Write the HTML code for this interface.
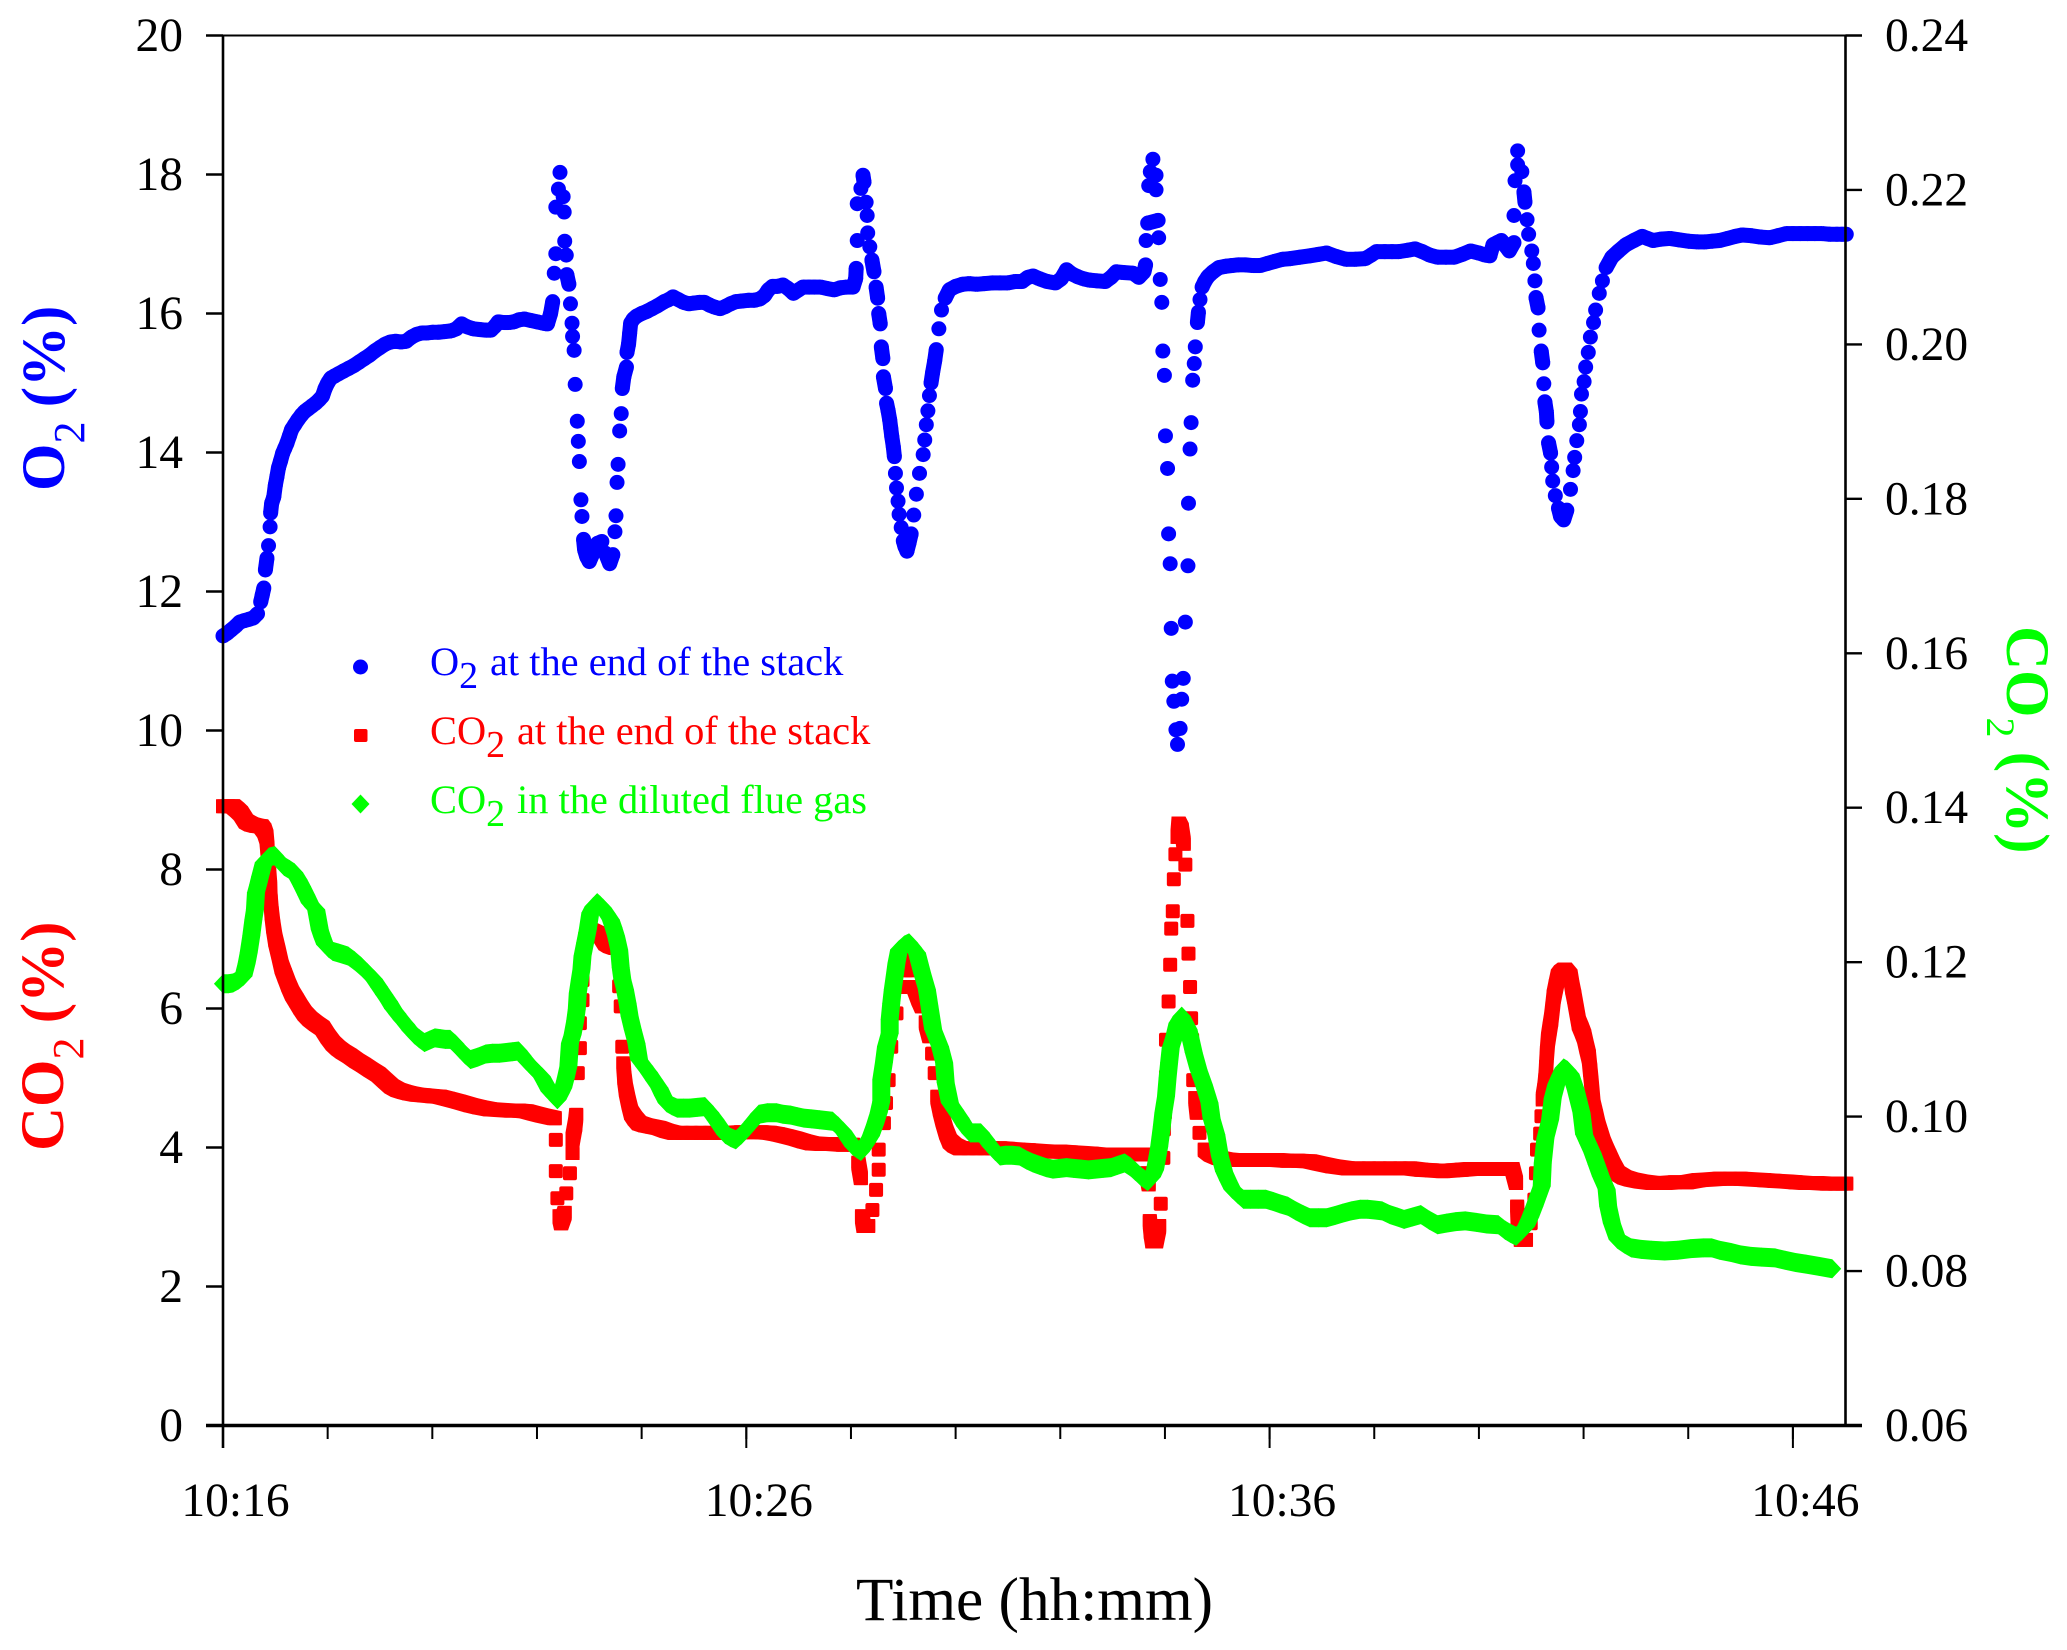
<!DOCTYPE html>
<html>
<head>
<meta charset="utf-8">
<title>O2 and CO2 concentration over time</title>
<style>
html,body{margin:0;padding:0;background:#fff;}
svg{display:block;font-family:"Liberation Serif",serif;}
</style>
</head>
<body>
<svg id="chart" xmlns="http://www.w3.org/2000/svg" width="2067" height="1650" viewBox="0 0 2067 1650">
<g id="marks-o2"></g>
<g id="marks-co2-stack"></g>
<g id="marks-co2-flue"></g>
<g id="axes"></g>
<text x="856" y="1620" font-size="61.3" fill="#000">Time (hh:mm)</text>
<text transform="translate(64,491) rotate(-90)" font-size="61" font-weight="bold" fill="#0000ff">O<tspan font-size="44" font-weight="normal" dy="20">2</tspan><tspan dy="-20" dx="-1"> (%)</tspan></text>
<text transform="translate(63,1151) rotate(-90)" font-size="61" font-weight="bold" fill="#ff0000">CO<tspan font-size="44" font-weight="normal" dy="20">2</tspan><tspan dy="-20" dx="-1"> (%)</tspan></text>
<text transform="translate(2007,626) rotate(90)" font-size="61" font-weight="bold" fill="#00ff00">CO<tspan font-size="40" font-weight="normal" dy="20">2</tspan><tspan dy="-20" dx="-1"> (%)</tspan></text>
<g>
<circle cx="360.5" cy="667" r="7.5" fill="#0000ff"/>
<text x="430" y="675" font-size="40.4" fill="#0000ff">O<tspan font-size="38" dy="13">2</tspan><tspan dy="-13" x="490">at the end of the stack</tspan></text>
<rect x="354" y="729" width="13.5" height="13" rx="2" fill="#ff0000"/>
<text x="430" y="744" font-size="40.4" fill="#ff0000">CO<tspan font-size="38" dy="13">2</tspan><tspan dy="-13" x="517">at the end of the stack</tspan></text>
<polygon points="360.5,794.5 369.5,804 360.5,813.5 351.5,804" fill="#00ff00"/>
<text x="430" y="813" font-size="40.4" fill="#00ff00">CO<tspan font-size="38" dy="13">2</tspan><tspan dy="-13" x="517">in the diluted flue gas</tspan></text>
</g>
</svg>
<script>
const yLeftTicks = [0,2,4,6,8,10,12,14,16,18,20];
const yRightTicks = ['0.06','0.08','0.10','0.12','0.14','0.16','0.18','0.20','0.22','0.24'];
const xMinorMinutes = [0,2,4,6,8,10,12,14,16,18,20,22,24,26,28,30];
const xMajorMinutes = [0,10,20,30];
const xTickLabels = ['10:16','10:26','10:36','10:46'];

const o2Minutes = [
0,.08,.16,.24,.32,.4,.5,.58,.66,.72,
.75,.78,.81,.84,.87,.9,.91,.93,.97,1,
1.03,1.06,1.1,1.14,1.18,1.22,1.27,1.31,1.37,1.43,
1.5,1.56,1.63,1.7,1.77,1.84,1.9,1.95,2,2.06,
2.13,2.2,2.3,2.4,2.5,2.6,2.7,2.8,2.9,3,
3.1,3.2,3.3,3.4,3.5,3.6,3.7,3.8,3.9,4,
4.12,4.24,4.36,4.46,4.56,4.66,4.78,4.9,5.02,5.12,
5.2,5.26,5.36,5.46,5.56,5.66,5.76,5.88,6,6.12,
6.2,6.26,6.3,6.33,6.36,6.36,6.41,6.44,6.5,6.52,
6.53,6.56,6.57,6.61,6.64,6.67,6.68,6.71,6.73,6.77,
6.79,6.81,6.84,6.86,6.89,6.91,6.95,7,7.07,7.15,
7.24,7.31,7.39,7.45,7.49,7.51,7.53,7.55,7.58,7.61,
7.63,7.66,7.71,7.72,7.75,7.77,7.79,7.84,7.9,8,
8.1,8.2,8.3,8.43,8.52,8.6,8.7,8.8,8.9,9,
9.1,9.2,9.3,9.4,9.5,9.6,9.7,9.8,9.92,10.04,
10.16,10.26,10.35,10.42,10.5,10.6,10.7,10.8,10.9,11,
11.08,11.2,11.3,11.42,11.54,11.68,11.8,11.92,12.04,12.09,
12.1,12.12,12.12,12.19,12.23,12.25,12.29,12.31,12.32,12.36,
12.4,12.44,12.48,12.51,12.53,12.56,12.58,12.61,12.62,12.66,
12.68,12.71,12.74,12.76,12.78,12.81,12.83,12.85,12.87,12.9,
12.92,12.96,13,13.03,13.07,13.11,13.15,13.2,13.25,13.31,
13.38,13.41,13.44,13.47,13.5,13.53,13.56,13.6,13.63,13.68,
13.73,13.8,13.88,
14,14.13,14.26,14.4,14.55,14.7,14.85,15,15.14,15.27,
15.38,15.48,15.6,15.75,15.91,16.02,16.12,16.22,16.33,16.44,
16.56,16.7,16.86,16.97,17.07,17.2,17.39,17.5,17.6,17.63,
17.64,17.67,17.87,17.69,17.72,17.77,17.83,17.83,17.88,17.91,
17.94,17.96,17.99,18.01,18.05,18.07,18.1,18.12,18.14,18.17,
18.21,18.24,18.29,18.32,18.35,18.39,18.44,18.45,18.48,18.5,
18.53,18.56,18.58,18.62,18.64,18.67,18.71,18.76,18.82,18.92,
19.03,19.16,19.28,19.4,19.54,19.68,19.82,19.96,20.1,20.25,
20.4,20.58,20.77,20.93,21.09,21.27,21.46,21.64,21.83,21.94,
22.04,22.2,22.34,22.47,22.64,22.78,22.92,23.06,23.21,23.37,
23.53,23.68,23.84,24,24.12,24.21,24.27,24.35,24.43,24.5,
24.58,24.67,24.67,24.69,24.74,24.74,24.82,24.86,24.88,24.92,
24.95,25.01,25.04,25.07,25.09,25.13,25.15,25.19,25.22,25.24,
25.26,25.29,25.3,25.33,25.37,25.39,25.41,25.46,25.52,25.56,
25.62,25.68,25.75,25.8,25.83,25.87,25.92,25.94,25.96,26.01,
26.04,26.09,26.13,26.19,26.23,26.3,26.36,26.43,26.54,26.67,
26.81,26.96,27.12,27.22,27.33,27.48,27.65,27.82,28,28.18,
28.32,28.46,28.6,28.75,28.9,29.03,29.2,29.38,29.56,29.72,
29.87,30,30.14,30.28,30.42,30.56,30.7,30.84,30.94,31.02
];
const o2Percent = [
11.36,11.4,11.45,11.5,11.56,11.58,11.6,11.62,11.68,11.85,
11.95,12.05,12.31,12.48,12.66,12.93,13.13,13.27,13.36,13.53,
13.65,13.78,13.88,13.99,14.06,14.13,14.24,14.33,14.4,14.47,
14.54,14.59,14.63,14.67,14.71,14.76,14.81,14.92,15,15.07,
15.1,15.13,15.17,15.21,15.25,15.3,15.35,15.4,15.46,15.51,
15.56,15.59,15.6,15.59,15.6,15.66,15.7,15.72,15.72,15.73,
15.73,15.74,15.75,15.78,15.85,15.81,15.78,15.77,15.76,15.76,
15.82,15.88,15.87,15.87,15.88,15.91,15.92,15.9,15.88,15.86,
15.85,16,16.17,16.58,16.86,17.53,17.79,18.03,17.68,17.46,
17.04,16.84,16.56,16.42,16.14,15.86,15.67,15.47,14.98,14.45,
14.16,13.87,13.32,13.08,12.75,12.6,12.5,12.43,12.55,12.69,
12.72,12.55,12.4,12.53,12.86,13.09,13.57,13.83,14.31,14.56,
14.92,15.09,15.23,15.44,15.56,15.71,15.86,15.92,15.96,16,
16.03,16.07,16.11,16.17,16.2,16.24,16.2,16.16,16.14,16.15,
16.16,16.16,16.12,16.09,16.07,16.1,16.14,16.17,16.18,16.19,
16.19,16.21,16.26,16.34,16.39,16.39,16.41,16.36,16.29,16.34,
16.38,16.38,16.38,16.38,16.36,16.34,16.37,16.38,16.38,16.5,
16.65,17.05,17.58,17.8,17.99,17.89,17.6,17.41,17.16,16.96,
16.77,16.6,16.38,16.22,16,15.85,15.52,15.35,15.09,14.92,
14.71,14.6,14.47,14.35,14.23,14.08,13.94,13.7,13.49,13.3,
13.11,12.92,12.73,12.65,12.58,12.7,12.83,13.1,13.4,13.7,
13.97,14.18,14.4,14.6,14.82,15,15.15,15.32,15.48,15.78,
16.05,16.22,16.34,
16.39,16.42,16.43,16.42,16.43,16.44,16.44,16.44,16.46,16.46,
16.52,16.54,16.5,16.46,16.44,16.5,16.63,16.57,16.53,16.5,
16.48,16.47,16.46,16.52,16.6,16.59,16.58,16.52,16.6,16.7,
17.05,17.3,17.34,17.84,18.04,18.22,17.99,17.78,17.09,16.49,
16.16,15.46,15.11,14.24,13.77,12.83,12.4,11.47,10.71,10.42,
10.01,9.8,10.03,10.45,10.75,11.56,12.37,13.27,14.05,14.43,
15.04,15.28,15.52,15.87,16.02,16.2,16.38,16.46,16.53,16.6,
16.66,16.68,16.69,16.7,16.7,16.69,16.69,16.72,16.75,16.78,
16.79,16.81,16.83,16.85,16.87,16.82,16.78,16.78,16.79,16.84,
16.89,16.89,16.89,16.89,16.91,16.93,16.89,16.84,16.81,16.81,
16.81,16.85,16.9,16.87,16.84,16.83,16.99,17.02,17.05,16.98,
16.9,17.02,17.41,17.91,18.14,18.34,18.04,17.75,17.6,17.35,
17.14,16.9,16.72,16.47,16.23,16.08,15.76,15.46,15.29,14.99,
14.73,14.58,14.44,14.14,13.99,13.79,13.59,13.38,13.2,13.08,
13.03,13.17,13.47,13.74,13.93,14.17,14.4,14.59,14.84,15.02,
15.23,15.44,15.66,15.87,16.05,16.29,16.47,16.66,16.81,16.9,
16.99,17.05,17.11,17.08,17.05,17.07,17.08,17.06,17.04,17.03,
17.03,17.04,17.05,17.08,17.11,17.13,17.12,17.1,17.09,17.12,
17.15,17.15,17.15,17.15,17.15,17.15,17.14,17.14,17.14,17.14
];

const co2StackMinutes = [
0,.1,.19,.27,.34,.44,.54,.64,.73,.79,
.83,.85,.86,.88,.9,.91,.93,.96,1,1.06,
1.12,1.18,1.25,1.32,1.4,1.48,1.56,1.66,1.78,1.9,
2,2.1,2.2,2.29,2.42,2.55,2.68,2.82,2.97,3.1,
3.22,3.34,3.46,3.56,3.7,3.85,4,4.14,4.3,4.5,
4.73,4.9,5.1,5.31,5.5,5.65,5.8,5.95,6.1,6.34,
6.36,6.36,6.39,6.43,6.46,6.53,6.56,6.63,6.68,6.68,
6.73,6.75,6.78,6.82,6.82,6.87,6.87,6.89,6.92,6.97,
7.02,7.1,7.21,7.31,7.4,7.51,7.57,7.6,7.63,7.65,
7.67,7.7,7.75,7.8,7.87,7.95,8.07,8.2,8.33,8.48,
8.63,8.78,8.95,9.13,9.31,9.5,9.7,9.9,10.1,10.29,
10.45,10.6,10.77,10.93,11.1,11.26,11.45,11.65,11.85,12.04,
12.14,12.19,12.21,12.24,12.33,12.41,12.48,12.53,12.53,12.63,
12.67,12.72,12.77,12.87,12.97,13.03,13.09,13.15,13.21,13.29,
13.36,13.43,13.5,13.55,13.6,13.65,13.7,13.75,13.82,13.89,
13.98,14.09,14.25,14.4,14.55,14.7,14.85,15,15.2,15.4,
15.6,15.8,16,16.2,16.4,16.6,16.75,16.95,17.15,17.35,
17.5,17.6,17.65,17.69,17.71,17.73,17.76,17.83,17.89,17.92,
17.97,17.98,18,18.02,18.02,18.07,18.1,18.12,18.15,18.17,
18.2,18.24,18.26,18.32,18.36,18.39,18.43,18.45,18.48,18.5,
18.52,18.54,18.58,18.61,18.66,18.76,18.88,19.03,19.16,19.29,
19.5,19.7,19.9,20.14,20.34,20.55,20.77,20.95,21.2,21.5,
21.7,21.9,22.1,22.3,22.5,22.68,22.9,23.1,23.31,23.5,
23.67,23.84,24,24.15,24.3,24.45,24.64,24.71,24.73,24.74,
24.8,24.9,24.99,25.06,25.09,25.11,25.17,25.195,25.22,25.25,25.27,
25.285,25.3,25.32,25.35,25.38,25.405,25.43,25.47,25.51,25.57,
25.64,25.75,25.785,25.82,25.865,25.91,25.96,26.01,26.055,26.1,
26.125,26.15,26.17,26.19,26.235,26.28,26.33,26.38,26.435,26.49,
26.57,26.65,26.78,26.91,27.1,
27.33,27.55,27.75,27.97,28.2,28.4,28.6,28.8,29,29.24,
29.45,29.65,29.87,30.05,30.25,30.45,30.65,30.8,30.92,31.02
];
const co2StackPercent = [
8.91,8.91,8.91,8.86,8.81,8.69,8.65,8.63,8.62,8.56,
8.47,8.3,8.14,7.95,7.75,7.55,7.37,7.18,6.99,6.8,
6.6,6.48,6.34,6.22,6.12,6.02,5.93,5.85,5.78,5.72,
5.6,5.5,5.43,5.38,5.32,5.25,5.19,5.12,5.05,4.96,
4.88,4.83,4.8,4.78,4.76,4.75,4.74,4.73,4.7,4.66,
4.61,4.58,4.55,4.54,4.53,4.53,4.52,4.49,4.46,4.42,
4.11,3.66,3.27,3.01,2.91,3.06,3.34,3.63,3.92,4.12,
4.33,4.47,5.07,5.43,5.79,6.12,6.41,6.7,6.99,7.06,
7.13,7.1,7.06,6.94,6.9,6.87,6.32,6.03,5.45,5.21,
5,4.83,4.65,4.5,4.42,4.35,4.32,4.3,4.28,4.24,
4.21,4.21,4.21,4.21,4.21,4.21,4.21,4.22,4.22,4.22,
4.21,4.19,4.16,4.13,4.09,4.06,4.05,4.05,4.04,4.04,
3.78,3.56,3.01,2.87,2.87,3.1,3.39,3.68,3.97,4.35,
4.64,4.97,5.45,5.93,6.31,6.55,6.7,6.55,6.31,6.15,
6.03,5.8,5.6,5.35,5.07,4.73,4.55,4.4,4.22,4.09,
4.03,3.99,3.99,3.99,3.99,3.99,3.99,3.98,3.97,3.96,
3.95,3.94,3.94,3.93,3.92,3.91,3.9,3.9,3.9,3.9,
3.9,3.9,3.63,3.47,2.94,2.79,2.65,2.65,2.87,3.19,
3.85,4.26,4.5,5.02,5.55,6.1,6.63,7.15,7.4,7.86,
8.22,8.47,8.66,8.57,8.37,8.07,7.26,6.79,6.31,5.86,
5.55,4.97,4.71,4.5,4.21,3.97,3.9,3.85,3.83,3.82,
3.82,3.82,3.82,3.82,3.81,3.81,3.8,3.77,3.73,3.7,
3.7,3.7,3.7,3.7,3.7,3.7,3.68,3.67,3.66,3.67,
3.68,3.69,3.69,3.69,3.69,3.69,3.69,3.49,3.15,2.96,
2.67,2.67,2.91,3.25,3.63,3.97,4.2,4.45,4.69,4.83,4.97,
5.16,5.36,5.55,5.7,5.84,6,6.17,6.32,6.46,6.52,
6.56,6.46,6.3,6.17,5.98,5.79,5.7,5.6,5.45,5.31,
5.12,4.93,4.76,4.59,4.45,4.3,4.18,4.06,3.96,3.87,
3.74,3.63,3.57,3.54,3.51,
3.49,3.49,3.5,3.5,3.53,3.54,3.55,3.55,3.55,3.54,
3.53,3.52,3.51,3.5,3.49,3.49,3.48,3.48,3.48,3.48
];

const co2FlueMinutes = [
0,.1,.19,.3,.39,.45,.49,.54,.58,.61,
.63,.67,.71,.78,.88,.99,1.08,1.17,1.27,1.36,
1.44,1.51,1.59,1.66,1.72,1.78,1.85,1.9,1.95,2.02,
2.1,2.2,2.3,2.39,2.51,2.63,2.75,2.88,2.98,3.08,
3.17,3.25,3.33,3.41,3.5,3.58,3.66,3.75,3.85,3.95,
4.05,4.15,4.25,4.34,4.44,4.53,4.63,4.73,4.87,5.02,
5.15,5.28,5.41,5.53,5.65,5.72,5.8,5.9,6,6.09,
6.17,6.24,6.32,6.39,6.45,6.5,6.55,6.6,6.63,6.68,
6.73,6.76,6.78,6.82,6.85,6.87,6.92,6.97,7.02,7.08,
7.15,7.2,7.26,7.33,7.41,7.46,7.51,7.57,7.6,7.63,
7.68,7.73,7.77,7.83,7.9,7.95,8.05,8.14,8.24,8.34,
8.41,8.48,8.58,8.68,8.8,8.92,9.06,9.21,9.31,9.41,
9.5,9.6,9.7,9.8,9.9,9.99,10.12,10.24,10.4,10.58,
10.7,10.85,10.97,11.1,11.25,11.4,11.65,11.75,11.85,11.95,
12.04,12.12,12.19,12.28,12.38,12.46,12.53,12.58,12.58,12.63,
12.67,12.74,12.74,12.77,12.8,12.84,12.87,12.92,13.02,13.11,
13.18,13.26,13.31,13.36,13.45,13.5,13.57,13.7,13.78,13.81,
13.89,13.99,14.09,14.18,14.28,14.38,14.48,14.58,14.67,14.76,
14.85,14.95,15.08,15.22,15.35,15.48,15.6,15.73,15.86,15.99,
16.12,16.25,16.4,16.54,16.68,16.82,16.97,17.1,17.23,17.34,
17.44,17.55,17.67,17.75,17.81,17.89,17.94,17.97,18.02,18.05,
18.08,18.11,18.18,18.24,18.32,18.38,18.45,18.5,18.55,18.64,
18.74,18.85,18.89,18.98,19.05,19.13,19.21,19.29,19.4,19.5,
19.64,19.78,19.93,20.07,20.2,20.35,20.5,20.64,20.77,20.93,
21.09,21.25,21.4,21.56,21.73,21.87,22.01,22.15,22.3,22.44,
22.57,22.73,22.89,23.05,23.21,23.38,23.56,23.74,23.95,24.15,
24.37,24.5,24.6,24.71,24.8,24.9,24.98,25.06,25.13,25.2,
25.22,25.27,25.36,25.41,25.48,25.55,25.62,25.69,25.75,25.85,
25.96,26.01,26.09,26.17,26.25,26.33,26.44,26.47,26.54,26.65,
26.78,26.91,27.1,27.3,27.55,27.8,28.05,28.29,28.45,28.6,
28.82,29,29.2,29.4,29.66,29.85,30.05,30.25,30.5,30.75
];
const co2FluePercent = [
.1172,.1172,.1173,.1177,.1182,.1198,.1212,.1234,.1255,.1268,
.129,.13,.1311,.1329,.1336,.1338,.1331,.1324,.132,.1316,
.1307,.1298,.1287,.1277,.1272,.1268,.1242,.1232,.1223,.1218,
.1214,.1212,.121,.1208,.1202,.1195,.1187,.1178,.1168,.1158,
.1149,.114,.1133,.1126,.1119,.1112,.1106,.1101,.1096,.1099,
.1102,.1101,.11,.11,.1094,.1087,.108,.1074,.1077,.1081,
.1082,.1082,.1083,.1084,.1085,.1079,.1072,.1065,.1058,.1052,
.1042,.1033,.1027,.1022,.103,.1037,.105,.1065,.1095,.1106,
.1124,.1139,.116,.1178,.1191,.1208,.1225,.1242,.1264,.1272,
.1277,.1274,.127,.1263,.1255,.1245,.1234,.1216,.1193,.1178,
.1165,.1147,.113,.1113,.1095,.1074,.1065,.1057,.1047,.1037,
.1027,.1018,.1014,.1011,.1011,.1011,.1012,.1013,.1005,.0996,
.0987,.0977,.0973,.097,.0976,.0983,.0993,.1003,.1005,.1005,
.1003,.1002,.1,.0998,.0997,.0996,.0994,.0988,.0981,.0971,
.0962,.0958,.0955,.0964,.0975,.099,.1005,.102,.1048,.107,
.1091,.1108,.1126,.1147,.1165,.1184,.1199,.1216,.1222,.1225,
.1219,.1212,.1199,.1186,.1165,.1143,.1113,.1091,.107,.1044,
.1018,.1008,.0998,.0988,.0979,.0979,.0979,.097,.0962,.0955,
.0949,.095,.095,.0949,.0944,.094,.0937,.0934,.0932,.0933,
.0934,.0933,.0932,.0931,.0932,.0933,.0934,.0937,.094,.0935,
.0929,.0922,.0916,.0922,.0931,.0961,.0987,.1005,.1026,.105,
.107,.1089,.1104,.1121,.113,.1122,.1113,.1098,.1083,.1061,
.1042,.1018,.0998,.0977,.0949,.0929,.0917,.0906,.0899,.0893,
.0893,.0893,.0893,.089,.0887,.0884,.0878,.0873,.0869,.0869,
.0869,.0872,.0875,.0878,.088,.088,.0879,.0878,.0873,.087,
.0867,.087,.0873,.0866,.086,.0862,.0864,.0865,.0863,.0861,
.086,.0853,.0849,.0845,.0851,.0858,.087,.0884,.0897,.091,
.094,.0972,.0996,.1024,.1042,.1053,.1063,.106,.1055,.1035,
.1005,.0977,.0965,.0953,.0938,.0923,.0906,.0884,.0862,.0841,
.0835,.083,.0828,.0827,.0826,.0827,.0829,.083,.083,.0827,
.0824,.0821,.0819,.0818,.0817,.0814,.0811,.0809,.0806,.0803
];

const NS = 'http://www.w3.org/2000/svg';
function xScale(minutes){ return 223 + minutes * 52.33; }
function yLeft(percent){ return 1425.5 - percent / 20 * 1390; }
function yRight(percent){ return 1425.5 - (percent - 0.06) / 0.18 * 1390; }
function svgEl(tag, parent){ const el = document.createElementNS(NS, tag); parent.appendChild(el); return el; }
function near(x1, y1, x2, y2, limit){ return Math.hypot(x2 - x1, y2 - y1) < limit; }
function hull(pts){
  const p = pts.slice().sort(function(a, b){ return a[0] - b[0] || a[1] - b[1]; });
  const cross = function(o, a, b){ return (a[0]-o[0])*(b[1]-o[1]) - (a[1]-o[1])*(b[0]-o[0]); };
  const lo = [], up = [];
  p.forEach(function(q){ while (lo.length > 1 && cross(lo[lo.length-2], lo[lo.length-1], q) <= 0) lo.pop(); lo.push(q); });
  p.slice().reverse().forEach(function(q){ while (up.length > 1 && cross(up[up.length-2], up[up.length-1], q) <= 0) up.pop(); up.push(q); });
  return lo.slice(0, -1).concat(up.slice(0, -1)).map(function(q){ return q[0] + ',' + q[1]; }).join(' ');
}
function squareCorners(x, y){ const h = 7; return [[x-h,y-h],[x+h,y-h],[x+h,y+h],[x-h,y+h]]; }
function diamondCorners(x, y){ return [[x,y-9.5],[x+9,y],[x,y+9.5],[x-9,y]]; }

const o2Group = document.getElementById('marks-o2');
for (let i = 0; i < o2Percent.length; i++) {
  const cx = xScale(o2Minutes[i]);
  const cy = yLeft(o2Percent[i]);
  if (i > 0 && near(xScale(o2Minutes[i-1]), yLeft(o2Percent[i-1]), cx, cy, 12)) {
    const seg = svgEl('line', o2Group);
    
    
    seg.setAttribute('x1', xScale(o2Minutes[i-1]));
    seg.setAttribute('y1', yLeft(o2Percent[i-1]));
    seg.setAttribute('x2', cx);
    seg.setAttribute('y2', cy);
    seg.setAttribute('stroke', '#0000ff');
    seg.setAttribute('stroke-width', 15);
  }
  const el = svgEl('circle', o2Group);
  
  
  el.setAttribute('cx', cx);
  el.setAttribute('cy', cy);
  el.setAttribute('r', 7.5);
  el.setAttribute('fill', '#0000ff');
}
const stackGroup = document.getElementById('marks-co2-stack');
for (let i = 0; i < co2StackPercent.length; i++) {
  const cx = xScale(co2StackMinutes[i]);
  const cy = yLeft(co2StackPercent[i]);
  if (i > 0 && near(xScale(co2StackMinutes[i-1]), yLeft(co2StackPercent[i-1]), cx, cy, 16)) {
    const seg = svgEl('polygon', stackGroup);
    
    
    seg.setAttribute('points', hull(squareCorners(xScale(co2StackMinutes[i-1]), yLeft(co2StackPercent[i-1])).concat(squareCorners(cx, cy))));
    seg.setAttribute('fill', '#ff0000');
  }
  const el = svgEl('rect', stackGroup);
  
  
  el.setAttribute('x', cx - 7);
  el.setAttribute('y', cy - 7);
  el.setAttribute('width', 14);
  el.setAttribute('height', 14);
  el.setAttribute('rx', 2);
  el.setAttribute('fill', '#ff0000');
}
const flueGroup = document.getElementById('marks-co2-flue');
for (let i = 0; i < co2FluePercent.length; i++) {
  const cx = xScale(co2FlueMinutes[i]);
  const cy = yRight(co2FluePercent[i]);
  if (i > 0 && near(xScale(co2FlueMinutes[i-1]), yRight(co2FluePercent[i-1]), cx, cy, 45)) {
    const seg = svgEl('polygon', flueGroup);
    
    
    seg.setAttribute('points', hull(diamondCorners(xScale(co2FlueMinutes[i-1]), yRight(co2FluePercent[i-1])).concat(diamondCorners(cx, cy))));
    seg.setAttribute('fill', '#00ff00');
  }
  const el = svgEl('polygon', flueGroup);
  
  
  el.setAttribute('points', cx + ',' + (cy - 9.5) + ' ' + (cx + 9) + ',' + cy + ' ' + cx + ',' + (cy + 9.5) + ' ' + (cx - 9) + ',' + cy);
  el.setAttribute('fill', '#00ff00');
}

const axes = document.getElementById('axes');
function line(x1, y1, x2, y2, w, name){
  const el = svgEl('line', axes);
  
  
  el.setAttribute('x1', x1); el.setAttribute('y1', y1);
  el.setAttribute('x2', x2); el.setAttribute('y2', y2);
  el.setAttribute('stroke', '#000');
  el.setAttribute('stroke-width', w);
}
function label(x, y, text, anchor, name){
  const el = svgEl('text', axes);
  
  
  el.setAttribute('x', x); el.setAttribute('y', y);
  el.setAttribute('text-anchor', anchor);
  el.setAttribute('font-size', 47.5);
  el.setAttribute('fill', '#000');
  el.textContent = text;
}
line(223, yLeft(20), 223, 1448, 2.6, 'left-axis-line');
line(1845.5, yLeft(20), 1845.5, yLeft(0), 2.6, 'right-axis-line');
line(206, yLeft(0), 1862, yLeft(0), 3.6, 'bottom-axis-line');
line(206, yLeft(20), 1862, yLeft(20), 2, 'top-axis-line');
yLeftTicks.forEach(function(v){
  line(206, yLeft(v), 223, yLeft(v), 2.4, 'left-axis-tick');
  label(183, yLeft(v) + 15.5, String(v), 'end', 'left-axis-tick-label');
});
yRightTicks.forEach(function(s){
  const v = parseFloat(s);
  line(1845.5, yRight(v), 1862, yRight(v), 2.4, 'right-axis-tick');
  label(1885, yRight(v) + 15.5, s, 'start', 'right-axis-tick-label');
});
xMinorMinutes.forEach(function(m){
  line(xScale(m), yLeft(0), xScale(m), 1439, 2, 'x-axis-minor-tick');
});
xMajorMinutes.forEach(function(m, i){
  line(xScale(m), yLeft(0), xScale(m), 1448, 2, 'x-axis-major-tick');
  label(xScale(m) + 12.5, 1516, xTickLabels[i], 'middle', 'x-axis-tick-label');
});
</script>
</body>
</html>
